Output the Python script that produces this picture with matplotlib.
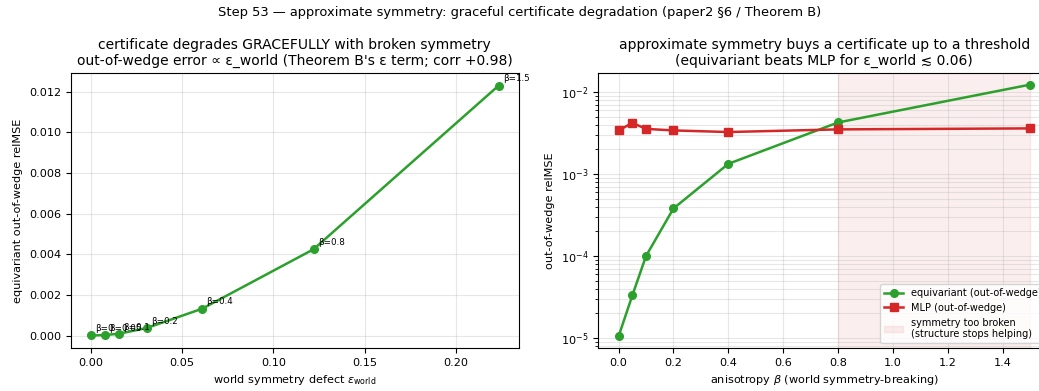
import matplotlib
matplotlib.use("Agg")
import matplotlib.pyplot as plt

betas = [0.0, 0.05, 0.1, 0.2, 0.4, 0.8, 1.5]
beta_labels = ["β=0", "β=0.05", "β=0.1", "β=0.2", "β=0.4", "β=0.8", "β=1.5"]
eps_world = [0.0, 0.0078, 0.0155, 0.0306, 0.0610, 0.1220, 0.2235]
equiv_err = [1.05e-5, 3.3e-5, 1.0e-4, 3.8e-4, 1.33e-3, 4.25e-3, 1.23e-2]
mlp_err = [3.4e-3, 4.2e-3, 3.55e-3, 3.4e-3, 3.25e-3, 3.5e-3, 3.6e-3]
broken_start, broken_end = 0.8, 1.5

green = "#2ca02c"
red = "#d62728"
fs = 8.15

fig = plt.figure(figsize=(10.39, 3.91), dpi=100)
ax1 = fig.add_axes([0.068, 0.110, 0.4315, 0.703])
ax2 = fig.add_axes([0.5756, 0.110, 0.4355, 0.703])

fig.suptitle("Step 53 — approximate symmetry: graceful certificate degradation (paper2 §6 / Theorem B)",
             fontsize=9.4, y=0.985)

ax1.plot(eps_world, equiv_err, "o-", color=green, lw=1.8, ms=5.5)
for x, y, lab in zip(eps_world, equiv_err, beta_labels):
    ax1.annotate(lab, (x, y), xytext=(3, 3), textcoords="offset points", fontsize=6.3)
ax1.set_xlabel(r"world symmetry defect $\varepsilon_{\rm world}$", fontsize=fs)
ax1.set_ylabel("equivariant out-of-wedge relMSE", fontsize=fs)
ax1.set_title("certificate degrades GRACEFULLY with broken symmetry\n"
              "out-of-wedge error ∝ ε_world (Theorem B's ε term; corr +0.98)", fontsize=10)
ax1.grid(True, alpha=0.3)
ax1.tick_params(labelsize=fs)

ax2.axvspan(broken_start, broken_end, color=red, alpha=0.08,
            label="symmetry too broken\n(structure stops helping)")
ax2.plot(betas, equiv_err, "o-", color=green, lw=1.8, ms=5.5, label="equivariant (out-of-wedge)")
ax2.plot(betas, mlp_err, "s-", color=red, lw=1.8, ms=5.5, label="MLP (out-of-wedge)")
ax2.set_yscale("log")
ax2.set_xlim(-0.075, 1.575)
ax2.set_ylim(7.55e-6, 0.017)
ax2.set_xlabel(r"anisotropy $\beta$ (world symmetry-breaking)", fontsize=fs)
ax2.set_ylabel("out-of-wedge relMSE", fontsize=fs)
ax2.set_title("approximate symmetry buys a certificate up to a threshold\n"
              "(equivariant beats MLP for ε_world ≲ 0.06)", fontsize=10)
ax2.grid(True, which="both", alpha=0.3)
ax2.tick_params(labelsize=fs)
h, l = ax2.get_legend_handles_labels()
ax2.legend([h[1], h[2], h[0]], [l[1], l[2], l[0]], loc="lower right", fontsize=7.0)

fig.savefig("out.png", dpi=100)
